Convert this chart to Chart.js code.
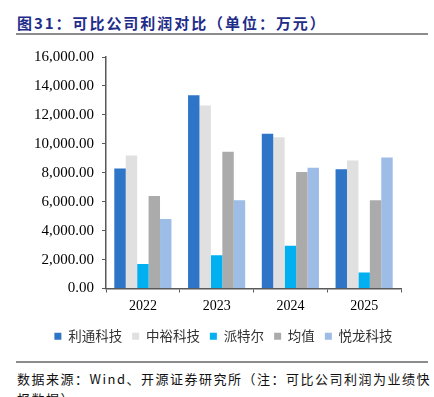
<!DOCTYPE html>
<html>
<head>
<meta charset="utf-8">
<script src="https://cdn.jsdelivr.net/npm/chart.js@4"></script>
<style>
  body { margin: 0; background: #fff; width: 434px; height: 397px; overflow: hidden; position: relative; }
  .title { position: absolute; left: 17px; top: 12px; font: bold 15px "Noto Sans CJK SC", sans-serif; letter-spacing: 1.95px; color: #1f2d8a; white-space: nowrap; }
  .rule { position: absolute; left: 16px; width: 412px; height: 2px; background: #8c8c8c; }
  .source { position: absolute; left: 17px; top: 369px; font: 13px "Noto Sans CJK SC", serif; letter-spacing: 1.5px; color: #111; line-height: 20px; width: 420px; }
  #wrap { position: absolute; left: 0; top: 40px; width: 434px; height: 313px; }
</style>
</head>
<body>
<div class="title">图31：可比公司利润对比（单位：万元）</div>
<div class="rule" style="top:33px"></div>
<div id="wrap"><canvas id="chart"></canvas></div>
<div class="rule" style="top:361px"></div>
<div class="source">数据来源：Wind、开源证券研究所（注：可比公司利润为业绩快报数据）</div>
<script>
// values in 万元
const years = ['2022', '2023', '2024', '2025'];
const litong = [8300, 13350, 10700, 8250];     // 利通科技
const zhongyu = [9200, 12650, 10450, 8850];    // 中裕科技
const paiteer = [1700, 2300, 2950, 1100];      // 派特尔
const average = [6400, 9450, 8050, 6100];      // 均值
const yuelong = [4800, 6100, 8350, 9050];      // 悦龙科技

const serif = '"Liberation Serif", "Times New Roman", serif';

// the original legend sits a bit right of the plot centre
const legendShift = {
  id: 'legendShift',
  afterLayout(chart) {
    chart.legend.left += 23;
    chart.legend.right += 23;
  }
};

new Chart(document.getElementById('chart'), {
  type: 'bar',
  data: {
    labels: years,
    datasets: [
      { label: '利通科技', data: litong, backgroundColor: '#2e75c7' },
      { label: '中裕科技', data: zhongyu, backgroundColor: '#e0e0e0' },
      { label: '派特尔', data: paiteer, backgroundColor: '#00b0f0' },
      { label: '均值', data: average, backgroundColor: '#ababab' },
      { label: '悦龙科技', data: yuelong, backgroundColor: '#9dbde6' }
    ]
  },
  options: {
    responsive: true,
    maintainAspectRatio: false,
    animation: false,
    layout: { padding: { left: 0, right: 33, top: 17, bottom: 0 } },
    datasets: { bar: { categoryPercentage: 0.775, barPercentage: 1 } },
    scales: {
      x: {
        grid: { drawOnChartArea: false, tickLength: 4, color: '#595959' },
        border: { color: '#595959', width: 1.5 },
        ticks: { color: '#000', font: { family: serif, size: 14 }, padding: 5 },
        afterFit: s => { s.height = 31; }
      },
      y: {
        min: 0, max: 16000,
        grid: { drawOnChartArea: false, tickLength: 4, color: '#595959' },
        border: { color: '#595959', width: 1.5 },
        ticks: {
          stepSize: 2000, color: '#000', padding: 8,
          font: { family: serif, size: 15 },
          callback: v => v.toLocaleString('en-US', { minimumFractionDigits: 2, maximumFractionDigits: 2 })
        },
        afterFit: s => { s.width = 106; }
      }
    },
    plugins: {
      tooltip: { enabled: false },
      legend: {
        position: 'bottom',
        labels: {
          color: '#333', boxWidth: 7, boxHeight: 7, padding: 10,
          font: { family: '"Noto Sans CJK SC", sans-serif', size: 13.5 }
        }
      }
    }
  },
  plugins: [legendShift]
});
</script>
</body>
</html>
